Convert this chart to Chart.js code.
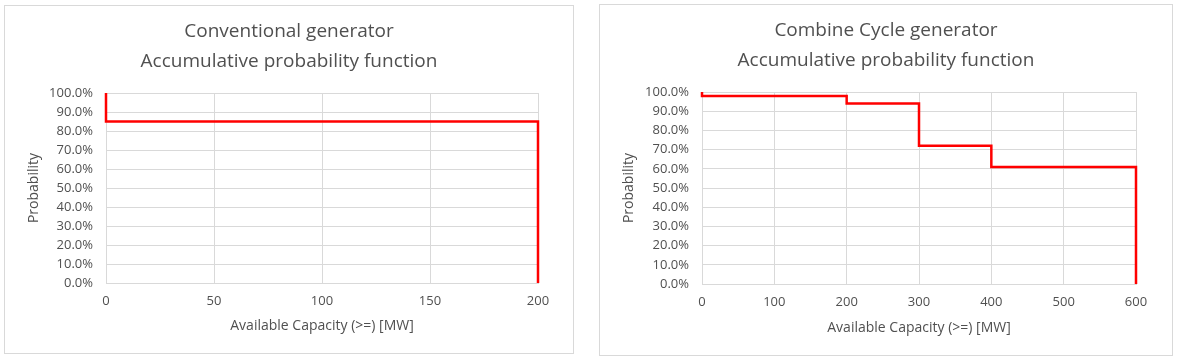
<!DOCTYPE html>
<html>
<head>
<meta charset="utf-8">
<script src="https://cdn.jsdelivr.net/npm/chart.js@4/dist/chart.umd.min.js"></script>
<style>
  body { margin: 0; background: #fff; width: 1177px; height: 360px; position: relative; overflow: hidden; }
  .box { position: absolute; box-sizing: border-box; border: 1px solid #d9d9d9; background: #fff; }
  #boxA { left: 4px; top: 5px; width: 570px; height: 349px; }
  #boxB { left: 599px; top: 4px; width: 574px; height: 352px; }
  canvas { display: block; }
</style>
</head>
<body>
<div class="box" id="boxA"><canvas id="chartA" width="568" height="347"></canvas></div>
<div class="box" id="boxB"><canvas id="chartB" width="572" height="350"></canvas></div>
<script>
// Conventional generator: capacity step points and cumulative probability
const convCapacity = [0, 0, 200];
const convProb = [1.0, 0.85, 0.0];
const convTitle = ['Conventional generator', 'Accumulative probability function'];

// Combine cycle generator
const ccCapacity = [0, 0, 200, 300, 400, 600];
const ccProb = [1.0, 0.98, 0.94, 0.72, 0.61, 0.0];
const ccTitle = ['Combine Cycle generator', 'Accumulative probability function'];

const xAxisTitle = 'Available Capacity (>=) [MW]';
const yAxisTitle = 'Probability';

const TEXT = '#505050';
const GRID = '#d9d9d9';
const FONT = "'Open Sans', 'Noto Sans', sans-serif";

function makeChart(id, caps, probs, title, xMax, xStep, yWidth, rightWidth, xHeight) {
    const ctx = document.getElementById(id).getContext('2d');
    return new Chart(ctx, {
        type: 'line',
        data: {
            datasets: [{
                data: caps.map((c, i) => ({ x: c, y: probs[i] })),
                borderColor: '#ff0000',
                borderWidth: 2.5,
                pointRadius: 0,
                stepped: 'before',
                fill: false,
                clip: false
            }]
        },
        options: {
            responsive: false,
            animation: false,
            layout: { padding: 0 },
            plugins: {
                legend: { display: false },
                tooltip: { enabled: false },
                title: {
                    display: true,
                    text: title,
                    color: TEXT,
                    font: { family: FONT, size: 19, weight: 'normal', lineHeight: 1.58 },
                    padding: { top: 11, bottom: 16 }
                }
            },
            scales: {
                x: {
                    type: 'linear',
                    min: 0,
                    max: xMax,
                    afterFit: s => { s.height = xHeight; },
                    grid: { color: GRID, drawTicks: false },
                    border: { color: GRID },
                    ticks: {
                        stepSize: xStep,
                        padding: 10,
                        color: TEXT,
                        font: { family: FONT, size: 13 }
                    },
                    title: {
                        display: true,
                        text: xAxisTitle,
                        color: TEXT,
                        font: { family: FONT, size: 14 },
                        padding: { top: 0, bottom: 19 }
                    }
                },
                y: {
                    min: 0,
                    max: 1,
                    afterFit: s => { s.width = yWidth; },
                    grid: { color: GRID, drawTicks: false },
                    border: { color: GRID },
                    ticks: {
                        stepSize: 0.1,
                        padding: 13,
                        color: TEXT,
                        font: { family: FONT, size: 13 },
                        callback: v => (v * 100).toFixed(1) + '%'
                    },
                    title: {
                        display: true,
                        text: yAxisTitle,
                        color: TEXT,
                        font: { family: FONT, size: 14 },
                        padding: { top: 21, bottom: 0 }
                    }
                },
                // empty right axis keeps the title centred on the whole box
                yr: {
                    position: 'right',
                    min: 0,
                    max: 1,
                    afterFit: s => { s.width = rightWidth; },
                    grid: { display: false },
                    border: { display: false },
                    ticks: { display: false }
                }
            }
        }
    });
}

makeChart('chartA', convCapacity, convProb, convTitle, 200, 50, 101, 35, 70);
makeChart('chartB', ccCapacity, ccProb, ccTitle, 600, 100, 102, 36, 71);
</script>
</body>
</html>
